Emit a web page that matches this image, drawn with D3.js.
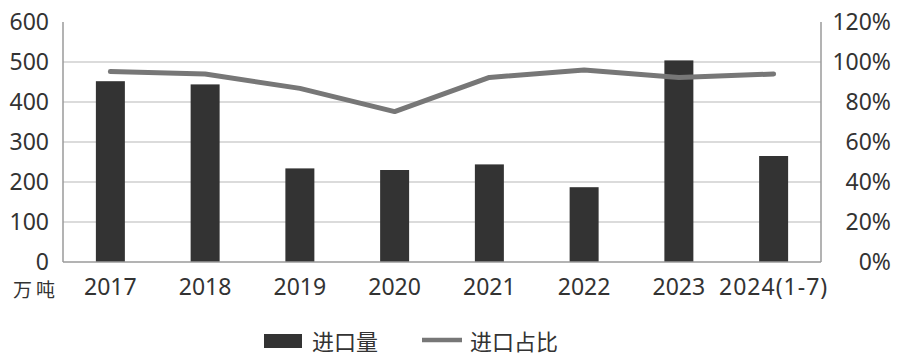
<!DOCTYPE html>
<html><head><meta charset="utf-8">
<script src="https://cdn.jsdelivr.net/npm/d3@7"></script>
<style>body{margin:0;background:#fff}svg{display:block}</style>
</head><body><svg id="c" width="900" height="359"></svg>
<script>
const categories = ["2017","2018","2019","2020","2021","2022","2023","2024(1-7)"];
const importVolume = [452, 444, 234, 230, 244, 187, 504, 265];
const importShare = [0.952, 0.94, 0.868, 0.752, 0.923, 0.96, 0.923, 0.94];
const leftTicks = [0,100,200,300,400,500,600];
const rightTicks = [0,0.2,0.4,0.6,0.8,1.0,1.2];
const seriesNames = ["进口量","进口占比"];
const unitLabel = "万吨";

const svg = d3.select("#c");
const L = 63, R = 821, T = 22, B = 262;
const x = d3.scaleBand().domain(categories).range([L, R]).paddingInner(0.694).paddingOuter(0.347);
const y = d3.scaleLinear().domain([0, 600]).range([B, T]);
const y2 = d3.scaleLinear().domain([0, 1.2]).range([B, T]);
const font = "'Noto Sans','Noto Sans CJK SC',sans-serif";

svg.append("g").selectAll("line").data(leftTicks.filter(d => d > 0 && d < 600)).join("line")
  .attr("x1", L).attr("x2", R).attr("y1", d => y(d)).attr("y2", d => y(d))
  .attr("stroke", "#cfcfcf").attr("stroke-width", 1.5);

svg.append("g").selectAll("rect").data(categories).join("rect")
  .attr("x", d => x(d)).attr("width", x.bandwidth())
  .attr("y", (d, i) => y(importVolume[i])).attr("height", (d, i) => B - y(importVolume[i]))
  .attr("fill", "#333333");

const ax = svg.append("g").attr("stroke", "#9a9a9a").attr("stroke-width", 1.5);
ax.append("line").attr("x1", L).attr("x2", L).attr("y1", T).attr("y2", B);
ax.append("line").attr("x1", R).attr("x2", R).attr("y1", T).attr("y2", B);
ax.append("line").attr("x1", L).attr("x2", R).attr("y1", B).attr("y2", B);

const line = d3.line().x((d, i) => x(categories[i]) + x.bandwidth() / 2).y(d => y2(d));
svg.append("path").datum(importShare).attr("d", line)
  .attr("fill", "none").attr("stroke", "#777777").attr("stroke-width", 5)
  .attr("stroke-linejoin", "round").attr("stroke-linecap", "round");

const la = svg.append("g").attr("transform", `translate(${L},0)`)
  .call(d3.axisLeft(y).tickValues(leftTicks).tickSize(0).tickPadding(14));
la.select(".domain").remove();
la.selectAll("text").attr("font-family", font).attr("font-size", 23).attr("fill", "#333");

const ra = svg.append("g").attr("transform", `translate(891,0)`)
  .call(d3.axisLeft(y2).tickValues(rightTicks).tickFormat(d3.format(".0%")).tickSize(0).tickPadding(0));
ra.select(".domain").remove();
ra.selectAll("text").attr("font-family", font).attr("font-size", 23).attr("fill", "#333");

const xa = svg.append("g").attr("transform", `translate(0,${B})`)
  .call(d3.axisBottom(x).tickSize(0).tickPadding(17));
xa.select(".domain").remove();
xa.selectAll("text").attr("font-family", font).attr("font-size", 23).attr("fill", "#333")
  .attr("letter-spacing", d => d.length > 4 ? 1 : 0);

svg.append("text").attr("x", 13).attr("y", 297).text(unitLabel)
  .attr("font-family", "'Noto Sans CJK SC',serif").attr("font-size", 19).attr("letter-spacing", 4).attr("fill", "#333");

const lg = svg.append("g");
lg.append("rect").attr("x", 264).attr("y", 334).attr("width", 38).attr("height", 14).attr("fill", "#333");
lg.append("text").attr("x", 312).attr("y", 344).attr("dominant-baseline", "middle").text(seriesNames[0])
  .attr("font-family", "'Noto Sans CJK SC',sans-serif").attr("font-size", 22).attr("fill", "#333");
lg.append("line").attr("x1", 422).attr("x2", 462).attr("y1", 340).attr("y2", 340)
  .attr("stroke", "#777").attr("stroke-width", 4.5);
lg.append("text").attr("x", 470).attr("y", 344).attr("dominant-baseline", "middle").text(seriesNames[1])
  .attr("font-family", "'Noto Sans CJK SC',sans-serif").attr("font-size", 22).attr("fill", "#333");
</script></body></html>
